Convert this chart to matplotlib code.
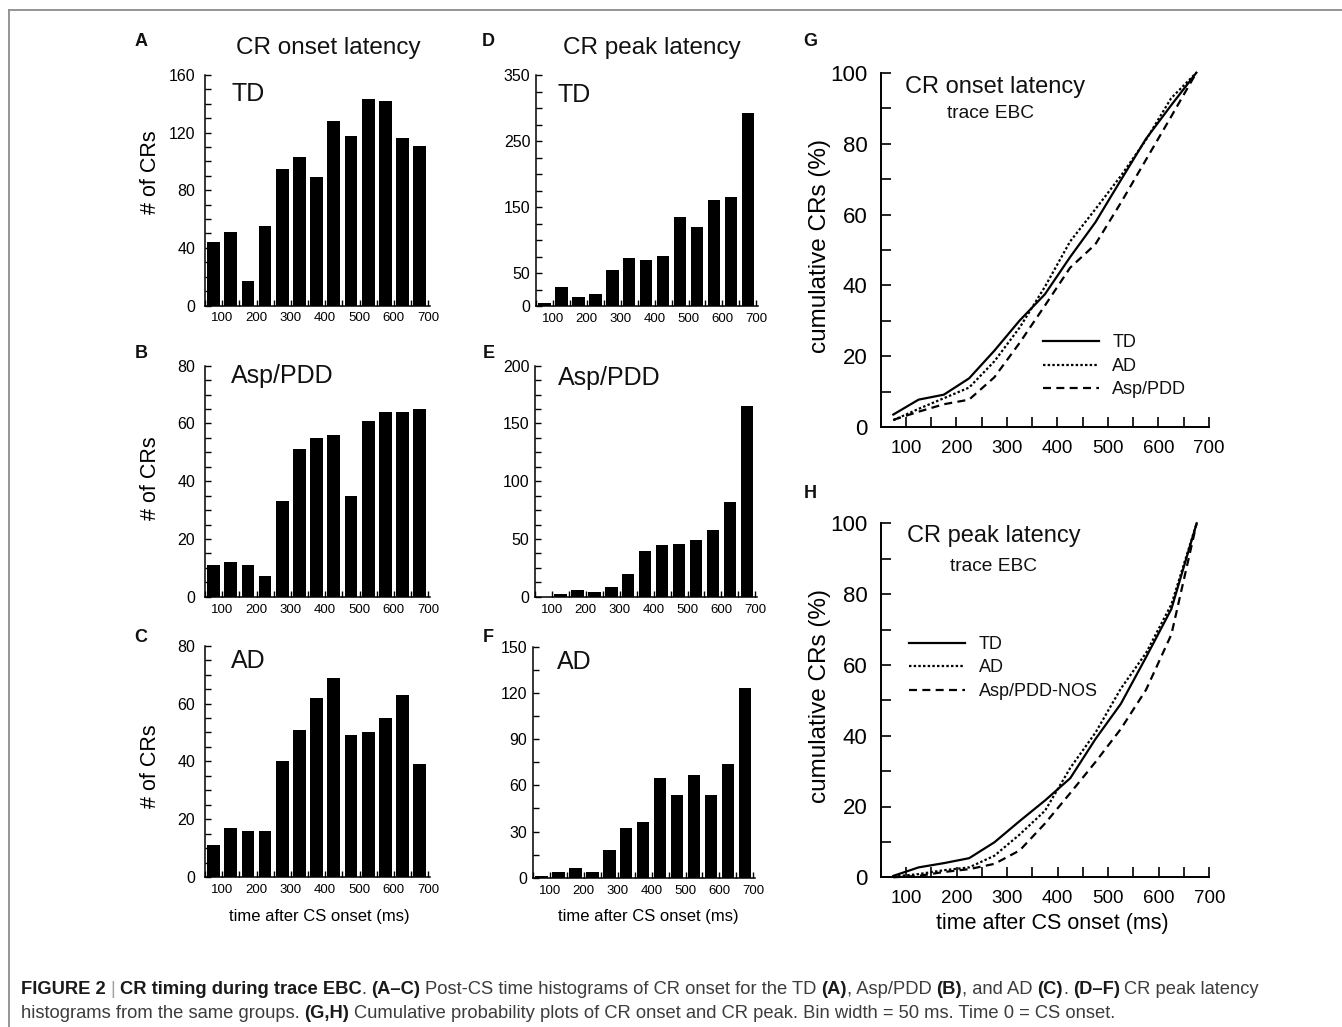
import numpy as np
import matplotlib
matplotlib.use("Agg")
import matplotlib.pyplot as plt
from matplotlib import font_manager
from matplotlib.lines import Line2D
from matplotlib.text import Annotation

# ---- data ----
bin_centers = [75, 125, 175, 225, 275, 325, 375, 425, 475, 525, 575, 625, 675]
x_tick_values = [100, 200, 300, 400, 500, 600, 700]

onset_td = [44, 51, 17, 55, 95, 103, 89, 128, 118, 143, 142, 116, 111]
onset_asp = [11, 12, 11, 7, 33, 51, 55, 56, 35, 61, 64, 64, 65]
onset_ad = [11, 17, 16, 16, 40, 51, 62, 69, 49, 50, 55, 63, 39]

peak_td = [5, 29, 14, 18, 54, 73, 70, 76, 135, 120, 160, 165, 293]
peak_asp = [0, 2, 6, 4, 8, 20, 40, 45, 46, 49, 58, 82, 165]
peak_ad = [1, 4, 6, 4, 18, 32, 36, 65, 54, 67, 54, 74, 123]

cum_onset_td = [3.6, 7.8, 9.2, 13.8, 21.6, 30.1, 37.5, 48.0, 57.8, 69.6, 81.3, 90.8, 100]
cum_onset_ad = [2.0, 5.2, 8.2, 11.2, 18.6, 28.1, 39.6, 52.4, 61.5, 70.8, 81.0, 92.8, 100]
cum_onset_asp = [2.1, 4.4, 6.5, 7.8, 14.1, 23.8, 34.3, 45.0, 51.6, 63.2, 75.4, 87.6, 100]

cum_peak_td = [0.4, 2.8, 4.0, 5.4, 9.9, 15.9, 21.7, 28.0, 39.1, 49.0, 62.2, 75.8, 100]
cum_peak_ad = [0.2, 0.9, 2.0, 2.8, 6.1, 12.1, 18.8, 30.9, 40.9, 53.3, 63.4, 77.1, 100]
cum_peak_asp = [0.0, 0.4, 1.5, 2.3, 3.8, 7.6, 15.2, 23.8, 32.6, 41.9, 53.0, 68.6, 100]

W, H = 1342, 1027
INK = "#111111"

plt.rcParams["font.family"] = ["Liberation Sans", "DejaVu Sans"]
plt.rcParams["text.color"] = INK

fig = plt.figure(figsize=(W / 100, H / 100), dpi=100)
fig.patch.set_facecolor("white")


def fx(x):
    return x / W


def fy(y):
    return 1 - y / H


def rect(left, top, right, bottom):
    return [left / W, 1 - bottom / H, (right - left) / W, (bottom - top) / H]


def hist_panel(box, counts, ymax, yticks, ystep, ypad):
    ax = fig.add_axes(rect(*box))
    ax.bar(bin_centers, counts, width=37, color="black", edgecolor="none")
    ax.set_xlim(50, 705)
    ax.set_ylim(0, ymax)
    ax.set_xticks(x_tick_values)
    ax.set_xticks(np.arange(50, 701, 100), minor=True)
    ax.set_yticks(yticks)
    ax.set_yticks(np.arange(0, ymax + 0.01, ystep), minor=True)
    ax.spines[["top", "right"]].set_visible(False)
    ax.spines[["left", "bottom"]].set_linewidth(1.1)
    ax.tick_params(which="both", direction="in", length=4, width=1, color="black")
    ax.tick_params(axis="x", labelsize=9.5, pad=5)
    ax.tick_params(axis="y", labelsize=11.5, pad=ypad)
    ax.patch.set_alpha(0)
    return ax


axA = hist_panel((205, 75, 430, 305.5), onset_td, 160, [0, 40, 80, 120, 160], 10, 7)
axB = hist_panel((205, 365.7, 430, 596.7), onset_asp, 80, [0, 20, 40, 60, 80], 5, 7)
axC = hist_panel((205, 645.7, 430, 877), onset_ad, 80, [0, 20, 40, 60, 80], 5, 7)
axD = hist_panel((536, 75, 758, 306), peak_td, 350, [0, 50, 150, 250, 350], 25, 4)
axE = hist_panel((535, 365.7, 757, 596.7), peak_asp, 200, [0, 50, 100, 150, 200], 12.5, 4)
axF = hist_panel((533, 646.7, 755, 877.7), peak_ad, 150, [0, 30, 60, 90, 120, 150], 15, 4)

for ax, yc in [(axA, 172), (axB, 478), (axC, 766)]:
    ax.set_ylabel("# of CRs", fontsize=15.5, va="center", ha="center")
    ax.yaxis.set_label_coords(fx(150), fy(yc), transform=fig.transFigure)

for ax, xc in [(axC, 319), (axF, 648)]:
    ax.set_xlabel("time after CS onset (ms)", fontsize=12, va="center", ha="center")
    ax.xaxis.set_label_coords(fx(xc), fy(917), transform=fig.transFigure)

fig.text(fx(328), fy(48), "CR onset latency", fontsize=17.5, ha="center", va="center")
fig.text(fx(652), fy(48), "CR peak latency", fontsize=17.5, ha="center", va="center")

for txt, x, y in [("TD", 231, 101), ("Asp/PDD", 231, 383), ("AD", 231, 668),
                  ("TD", 558, 102), ("Asp/PDD", 558, 385), ("AD", 557, 669)]:
    fig.text(fx(x), fy(y), txt, fontsize=18, ha="left", va="baseline")

for txt, x, y in [("A", 141, 42), ("B", 141, 354), ("C", 141, 637),
                  ("D", 488, 42), ("E", 489, 354), ("F", 488, 637),
                  ("G", 810, 42), ("H", 810, 494)]:
    fig.text(fx(x), fy(y), txt, fontsize=13, fontweight="bold", ha="center", va="center")


# ---- cumulative panels ----
def cum_panel(box, td, ad, asp, asp_label, leg_anchor, title, title_xy, sub_xy):
    ax = fig.add_axes(rect(*box))
    ax.plot(bin_centers, td, color="black", lw=1.6, ls="-", label="TD", clip_on=False)
    ax.plot(bin_centers, ad, color="black", lw=1.6, ls=(0, (1.1, 1.0)), label="AD", clip_on=False)
    ax.plot(bin_centers, asp, color="black", lw=1.6, ls=(0, (3.6, 2.4)), label=asp_label, clip_on=False)
    ax.set_xlim(50, 700)
    ax.set_ylim(0, 100)
    ax.set_xticks(x_tick_values)
    ax.set_xticks(np.arange(50, 701, 100), minor=True)
    ax.set_yticks(np.arange(0, 101, 20))
    ax.set_yticks(np.arange(10, 100, 20), minor=True)
    ax.spines[["top", "right"]].set_visible(False)
    ax.spines[["left", "bottom"]].set_linewidth(1.4)
    ax.tick_params(which="both", direction="in", length=7, width=1.2, color="black")
    ax.tick_params(axis="x", labelsize=13.5, pad=9)
    ax.tick_params(axis="y", labelsize=16, pad=9.5)
    ax.set_ylabel("cumulative CRs (%)", fontsize=17.5, va="center", ha="center")
    ax.yaxis.set_label_coords(fx(820), fy((box[1] + box[3]) / 2 - 4), transform=fig.transFigure)
    ax.legend(loc="upper left", bbox_to_anchor=leg_anchor, frameon=False, fontsize=13,
              handlelength=3.1, handletextpad=0.75, labelspacing=0.36,
              borderpad=0, borderaxespad=0)
    fig.text(fx(title_xy[0]), fy(title_xy[1]), title, fontsize=17, ha="left", va="baseline")
    fig.text(fx(sub_xy[0]), fy(sub_xy[1]), "trace EBC", fontsize=13.8, ha="left", va="baseline")
    ax.patch.set_alpha(0)
    return ax


axG = cum_panel((880.7, 72.7, 1209, 427.3), cum_onset_td, cum_onset_ad, cum_onset_asp,
                "Asp/PDD", (0.494, 0.262), "CR onset latency", (905, 93), (947, 118))
axH = cum_panel((880.7, 523.3, 1209.3, 877.3), cum_peak_td, cum_peak_ad, cum_peak_asp,
                "Asp/PDD-NOS", (0.086, 0.682), "CR peak latency", (907, 542), (950, 571))
axH.set_xlabel("time after CS onset (ms)", fontsize=15.5, va="center", ha="center")
axH.xaxis.set_label_coords(fx(1052), fy(923), transform=fig.transFigure)

# ---- frame ----
frame_kw = dict(transform=fig.transFigure, color="#8c8c8c", lw=1.3)
fig.add_artist(Line2D([fx(9), 1], [fy(10), fy(10)], **frame_kw))
fig.add_artist(Line2D([fx(9), fx(9)], [fy(10), 0], **frame_kw))

# ---- caption ----
cap_font = "Liberation Sans"
try:
    font_manager.findfont(font_manager.FontProperties(family="Liberation Sans Narrow"),
                          fallback_to_default=False)
    cap_font = "Liberation Sans Narrow"
except ValueError:
    pass

line1 = [("FIGURE 2", True, False), ("|", False, True), ("CR timing during trace EBC", True, True),
         (".", False, False), ("(A\u2013C)", True, True),
         ("Post-CS time histograms of CR onset for the TD", False, True), ("(A)", True, True),
         (", Asp/PDD", False, False), ("(B)", True, True), (", and AD", False, False),
         ("(C)", True, True), (".", False, False), ("(D\u2013F)", True, True),
         ("CR peak latency", False, True)]
line2 = [("histograms from the same groups.", False, False), ("(G,H)", True, True),
         ("Cumulative probability plots of CR onset and CR peak. Bin width = 50 ms. "
          "Time 0 = CS onset.", False, True)]


def caption_line(parts, x, y, size):
    arts = []
    prev = None
    for text, bold, space in parts:
        color = "#a0a0a0" if text == "|" else ("#1a1a1a" if bold else "#3c3c3c")
        kw = dict(fontsize=size, family=cap_font, color=color,
                  fontweight="bold" if bold else "normal")
        if prev is None:
            a = fig.text(fx(x), fy(y), text, ha="left", va="baseline", **kw)
        else:
            dx = 0.26 * size if space else 0
            a = Annotation(text, xy=(1, 0), xycoords=prev, xytext=(dx, 0),
                           textcoords="offset points", ha="left", va="bottom", **kw)
            fig.add_artist(a)
        arts.append(a)
        prev = a
    return arts


size = 12
arts = caption_line(line1, 21, 994, size)
fig.canvas.draw()
r = fig.canvas.get_renderer()
width = arts[-1].get_window_extent(r).x1 - arts[0].get_window_extent(r).x0
for a in arts:
    a.remove()
size = size * (1237 / width)
caption_line(line1, 21, 994, size)
caption_line(line2, 21, 1018, size)

fig.savefig("out.png", dpi=100)
